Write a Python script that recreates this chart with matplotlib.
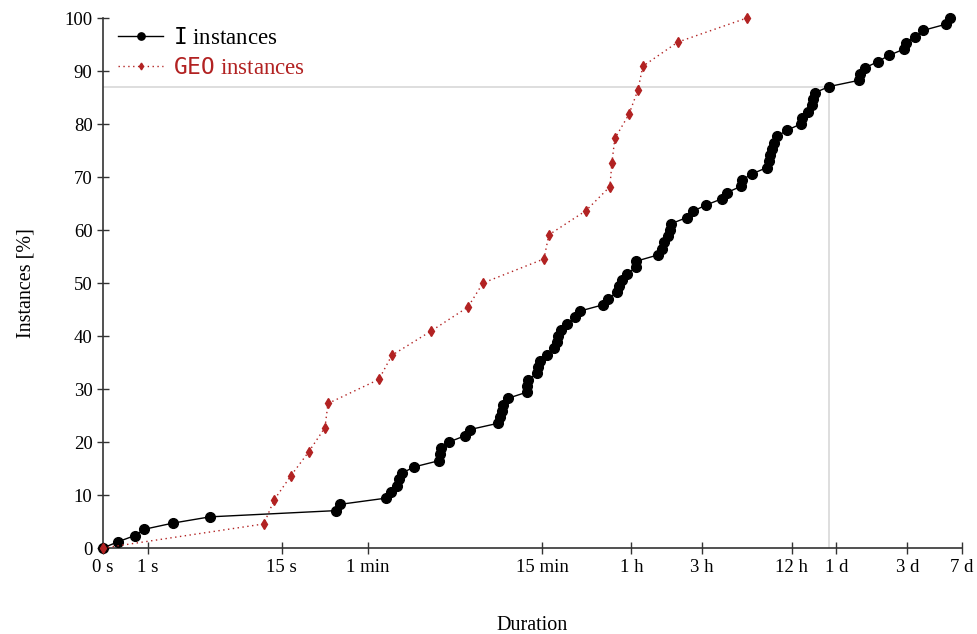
"""ECDF of solve durations: I instances vs GEO instances (log(1+t) time axis)."""

import numpy as np
import matplotlib

matplotlib.use("Agg")
import matplotlib.pyplot as plt

RED = "#b22222"
GRID = "#d4d4d4"

# durations in seconds, sorted
i_dur = [0, 0.26, 0.64, 0.89, 1.96, 4.25, 36, 38.3, 79.3, 85.7,
         94.2, 97.2, 101.8, 122.9, 181, 184, 187, 212, 272, 294,
         454, 468, 483, 490, 530, 712, 715, 723, 832, 845,
         872, 971, 1083, 1135, 1152, 1207, 1325, 1500, 1621, 2315,
         2502, 2876, 2967, 3108, 3359, 3862, 3880, 5429, 5777, 5959,
         6341, 6540, 6642, 8510, 9341, 11426, 14640, 15820, 19650, 19960,
         23300, 29390, 30320, 30800, 31770, 32770, 34330, 40090, 49800, 50580,
         55510, 59050, 59970, 61860, 76870, 122300, 124200, 134300, 164200, 194800,
         245700, 253400, 291300, 329800, 470900, 501100]
geo_dur = [0, 11.1, 13.2, 17.4, 23.3, 30.2, 31.7, 71, 87, 160, 285, 360,
           928, 1002, 1778, 2582, 2663, 2788, 3466, 3981, 4305, 7396, 21570]

# cumulative share of solved instances (ECDF of the durations above)
i_pct = 100 * np.arange(len(i_dur)) / (len(i_dur) - 1)
geo_pct = 100 * np.arange(len(geo_dur)) / (len(geo_dur) - 1)
mark_idx = 74  # instance marked by the grey guide lines

tick_sec = [0, 1, 15, 60, 900, 3600, 10800, 43200, 86400, 259200, 604800]
tick_lbl = ["0 s", "1 s", "15 s", "1 min", "15 min", "1 h", "3 h",
            "12 h", "1 d", "3 d", "7 d"]

plt.rcParams["font.family"] = ["Liberation Serif", "DejaVu Serif"]
plt.rcParams["mathtext.fontset"] = "custom"
plt.rcParams["mathtext.tt"] = "DejaVu Sans Mono"
plt.rcParams["mathtext.rm"] = "Liberation Serif"


def fwd(x):
    return np.log10(1 + np.maximum(x, 0))


def inv(y):
    return 10 ** np.asarray(y) - 1


fig = plt.figure(figsize=(9.77, 6.34), dpi=100)
ax = fig.add_axes([0.1054, 0.1356, 0.8792, 0.836])
ax.set_xscale("function", functions=(fwd, inv))

xm, ym = i_dur[mark_idx], i_pct[mark_idx]
ax.plot([0, xm, xm], [ym, ym, 0], color=GRID, lw=1.1, zorder=1)

ax.plot(i_dur, i_pct, color="black", lw=1, marker="o", ms=7,
        label=r"$\mathtt{I}$ instances", clip_on=False, zorder=3)
ax.plot(geo_dur, geo_pct, color=RED, lw=1, ls=(0, (1, 2.5)), marker="d",
        ms=4.6, label=r"$\mathtt{GEO}$ instances", clip_on=False, zorder=4)

ax.set_xlim(0, 604800)
ax.set_ylim(0, 100)
ax.set_xticks(tick_sec)
ax.set_xticklabels(tick_lbl)
ax.xaxis.set_minor_locator(matplotlib.ticker.NullLocator())
ax.set_yticks(range(0, 101, 10))

for s in ("top", "right"):
    ax.spines[s].set_visible(False)
for s in ("left", "bottom"):
    ax.spines[s].set_color("#333333")
    ax.spines[s].set_linewidth(1.2)
ax.tick_params(direction="inout", length=8, width=1, colors="#333333",
               labelcolor="black", labelsize=13.5)
ax.tick_params(axis="x", pad=4)

ax.set_xlabel("Duration", fontsize=14.5, labelpad=29)
ax.set_ylabel("Instances [%]", fontsize=14.5, labelpad=21)

leg = ax.legend(loc="upper left", bbox_to_anchor=(-0.007, 1.021), frameon=False,
                fontsize=16.5, handlelength=2.0, handletextpad=0.4,
                labelspacing=0.4, markerscale=0.75)
leg.get_texts()[1].set_color(RED)

fig.savefig("out.png", dpi=100)
